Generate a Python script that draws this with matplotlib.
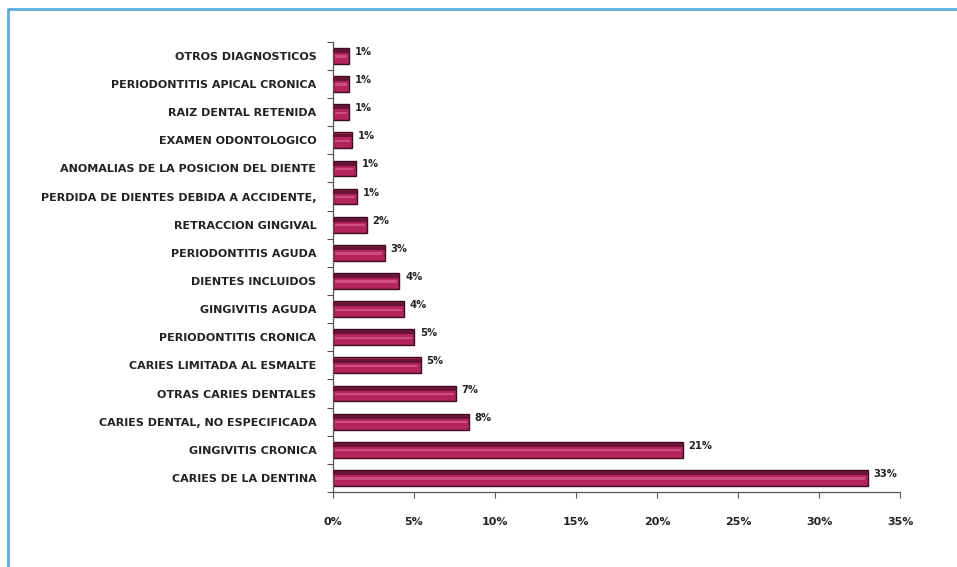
import matplotlib
matplotlib.use("Agg")
import matplotlib.pyplot as plt
from matplotlib.lines import Line2D
from matplotlib.ticker import FuncFormatter, FixedLocator

categories = [
    "CARIES DE LA DENTINA",
    "GINGIVITIS CRONICA",
    "CARIES DENTAL, NO ESPECIFICADA",
    "OTRAS CARIES DENTALES",
    "CARIES LIMITADA AL ESMALTE",
    "PERIODONTITIS CRONICA",
    "GINGIVITIS AGUDA",
    "DIENTES INCLUIDOS",
    "PERIODONTITIS AGUDA",
    "RETRACCION GINGIVAL",
    "PERDIDA DE DIENTES DEBIDA A ACCIDENTE,",
    "ANOMALIAS DE LA POSICION DEL DIENTE",
    "EXAMEN ODONTOLOGICO",
    "RAIZ DENTAL RETENIDA",
    "PERIODONTITIS APICAL CRONICA",
    "OTROS DIAGNOSTICOS",
]
values = [33.0, 21.6, 8.4, 7.6, 5.4, 5.0, 4.4, 4.1, 3.2, 2.1, 1.5, 1.4, 1.2, 1.0, 1.0, 1.0]
value_labels = ["33%", "21%", "8%", "7%", "5%", "5%", "4%", "4%", "3%", "2%",
                "1%", "1%", "1%", "1%", "1%", "1%"]

FONT = ["DejaVu Sans"]

fig = plt.figure(figsize=(9.57, 5.67), dpi=100)
ax = fig.add_axes([0.348, 0.1323, 0.5925, 0.794])

y = list(range(len(categories)))
ax.barh(y, values, height=0.56, color="#b3245a", edgecolor="#3e0a20", linewidth=1.0, zorder=2)
# dark upper band and light stripe for the rounded look
ax.barh([v + 0.17 for v in y], values, height=0.14, color="#6a1434", linewidth=0, zorder=3)
ax.barh([v - 0.02 for v in y], [max(v - 0.25, 0) for v in values], left=0.1,
        height=0.08, color="#e06a96", linewidth=0, alpha=0.6, zorder=3)

for yi, v, lab in zip(y, values, value_labels):
    ax.text(v + 0.35, yi + 0.14, lab, fontsize=8, fontweight="bold", family=FONT,
            stretch="condensed", va="center", ha="left", color="#222222")

ax.set_xlim(0, 35)
ax.set_ylim(-0.5, len(categories) - 0.5)
ax.set_xticks(range(0, 36, 5))
ax.xaxis.set_major_formatter(FuncFormatter(lambda v, p: f"{int(v)}%"))
ax.set_yticks(y)
ax.set_yticklabels(categories)
ax.yaxis.set_minor_locator(FixedLocator([v - 0.5 for v in range(len(categories) + 1)]))
ax.tick_params(axis="y", which="major", length=0, pad=12)
ax.tick_params(axis="y", which="minor", length=4, width=0.8, color="#555555")
ax.tick_params(axis="x", length=4, width=0.8, color="#555555", pad=14)
for lab in ax.get_xticklabels() + ax.get_yticklabels():
    lab.set_family(FONT)
    lab.set_fontweight("bold")
    lab.set_fontsize(8)
    lab.set_color("#222222")

for side in ("top", "right"):
    ax.spines[side].set_visible(False)
for side in ("left", "bottom"):
    ax.spines[side].set_color("#555555")
    ax.spines[side].set_linewidth(0.9)

# light blue frame around the picture
fig.add_artist(Line2D([0.0084, 0.0084, 1.0], [0.0, 0.984, 0.984],
                      transform=fig.transFigure, color="#5aaee0", linewidth=2.0))

fig.savefig("out.png", dpi=100)
